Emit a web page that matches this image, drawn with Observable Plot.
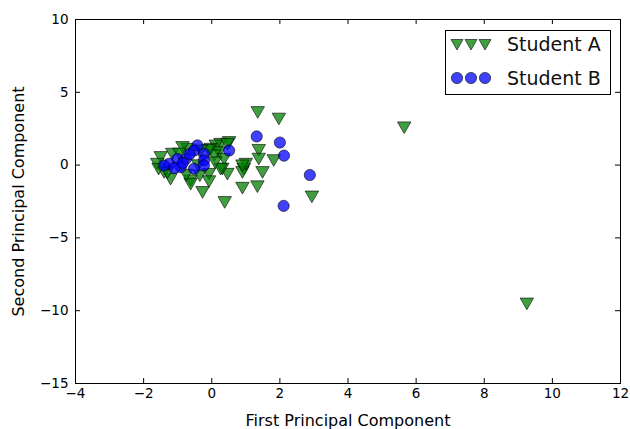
<!DOCTYPE html>
<html>
<head>
<meta charset="utf-8">
<script src="https://cdn.jsdelivr.net/npm/d3@7"></script>
<script src="https://cdn.jsdelivr.net/npm/@observablehq/plot@0.6"></script>
<style>
  body { margin: 0; background: white; font-family: "DejaVu Sans", sans-serif; }
  #wrap { position: relative; width: 630px; height: 429px; }
  #legend { position: absolute; left: 445px; top: 30px; width: 166px; height: 65px;
            border: 1px solid black; background: white; box-sizing: border-box; }
  .row { position: absolute; left: 0; height: 24px; display: flex; align-items: center; }
  .row span { font-size: 19px; color: #111; margin-left: 15px; }
</style>
</head>
<body>
<div id="wrap"></div>
<script>
// Student A (green down-triangles)
const studentAX = [9.25, 5.65, 1.35, 1.97, 1.38, 1.38, 1.82, 2.94, 0.94, 0.90,
                   1.49, 0.90, 1.34, 0.51, 1.00, 0.46, 0.31, -0.08, -0.08, -0.27,
                   0.38, -0.62, -1.21, -1.40, 0.26, 0.12, -0.03, 0.21, -0.72, 0.07,
                   0.46, -0.09, 0.36, 0.26, 0.90, -1.50, -1.60, -1.56, -0.86, -0.32,
                   -1.16, -0.62, -0.35, 0.10, -0.95, -1.30, -0.40, -0.75];
const studentAY = [-9.40, 2.70, 3.75, 3.30, 1.15, 0.55, 0.45, -2.05, -0.15, -0.37,
                   -0.37, -1.45, -1.35, 1.69, 0.20, -0.49, -0.14, -0.49, -1.00, -1.74,
                   -2.43, -0.94, -0.83, -0.37, 1.57, 1.46, 1.23, 1.00, 1.23, 0.78,
                   1.57, 1.14, 0.54, -0.14, 0.09, 0.66, 0.20, -0.14, 1.35, 1.12,
                   0.89, -1.17, -0.60, 0.30, 0.90, -0.40, 0.10, -0.55];
// Student B (blue circles)
const studentBX = [1.32, 2.00, 2.12, 2.88, 2.11, 0.51, -0.42, -0.52, -0.23, -0.23,
                   -0.23, -0.76, -1.01, -1.25, -1.40, -0.91, -0.52, -0.65, -1.10, -0.85];
const studentBY = [1.97, 1.55, 0.65, -0.68, -2.80, 1.00, 1.35, 1.00, 0.78, 0.32,
                   -0.03, 0.43, 0.43, 0.09, -0.03, -0.14, -0.25, 0.75, -0.20, 0.15];
const seriesNames = ["Student A", "Student B"];
const xTicks = [-4, -2, 0, 2, 4, 6, 8, 10, 12];
const yTicks = [-15, -10, -5, 0, 5, 10];
const xLabel = "First Principal Component";
const yLabel = "Second Principal Component";

const dataA = studentAX.map((x, i) => ({x, y: studentAY[i]}));
const dataB = studentBX.map((x, i) => ({x, y: studentBY[i]}));

const W = 630, H = 429, mL = 75, mR = 10, mT = 19, mB = 46;
const fw = W - mL - mR, fh = H - mT - mB, tl = 5;

const chart = Plot.plot({
  width: W, height: H,
  marginLeft: mL, marginRight: mR, marginTop: mT, marginBottom: mB,
  style: {fontFamily: "DejaVu Sans", fontSize: "13px", color: "black", background: "white"},
  x: {domain: [-4, 12]},
  y: {domain: [-15, 10]},
  marks: [
    Plot.axisX({ticks: xTicks, tickSize: 0, tickPadding: 5, label: null, fontSize: 13.5, tickFormat: d3.format("d")}),
    Plot.axisY({ticks: yTicks, tickSize: 0, tickPadding: 7, label: null, fontSize: 13.5, tickFormat: d3.format("d")}),
    Plot.ruleX(xTicks, {x: d => d, insetTop: fh - tl, stroke: "black"}),
    Plot.ruleX(xTicks, {x: d => d, insetBottom: fh - tl, stroke: "black"}),
    Plot.ruleY(yTicks, {y: d => d, insetRight: fw - tl, stroke: "black"}),
    Plot.ruleY(yTicks, {y: d => d, insetLeft: fw - tl, stroke: "black"}),
    Plot.dot(dataA, {x: "x", y: "y", symbol: "triangle", rotate: 180, r: 5,
      fill: "#008000", fillOpacity: 0.75, stroke: "black", strokeOpacity: 0.75, strokeWidth: 0.8}),
    Plot.dot(dataB, {x: "x", y: "y", symbol: "circle", r: 5.6,
      fill: "#0000ff", fillOpacity: 0.75, stroke: "black", strokeOpacity: 0.75, strokeWidth: 0.8}),
    Plot.frame({stroke: "black", strokeWidth: 1}),
    Plot.text([xLabel], {frameAnchor: "bottom", lineAnchor: "middle", textAnchor: "middle", dy: 37, fontSize: 16}),
    Plot.text([yLabel], {frameAnchor: "left", lineAnchor: "middle", textAnchor: "middle", dx: -57, rotate: -90, fontSize: 16})
  ]
});
const wrap = document.getElementById("wrap");
wrap.appendChild(chart);

// Legend overlay
const tri = `<svg width="14" height="14" viewBox="-7 -7 14 14"><path d="M-6,-4.5L6,-4.5L0,6Z" fill="#008000" fill-opacity="0.75" stroke="black" stroke-opacity="0.75" stroke-width="0.8"/></svg>`;
const cir = `<svg width="14" height="14" viewBox="-7 -7 14 14"><circle r="5.6" fill="#0000ff" fill-opacity="0.75" stroke="black" stroke-opacity="0.75" stroke-width="0.8"/></svg>`;
const legend = document.createElement("div");
legend.id = "legend";
const syms = [tri, cir];
const tops = [1, 35];
seriesNames.forEach((name, i) => {
  const row = document.createElement("div");
  row.className = "row";
  row.style.top = tops[i] + "px";
  row.style.left = "4px";
  row.innerHTML = syms[i] + syms[i] + syms[i] + `<span>${name}</span>`;
  legend.appendChild(row);
});
wrap.appendChild(legend);
</script>
</body>
</html>
